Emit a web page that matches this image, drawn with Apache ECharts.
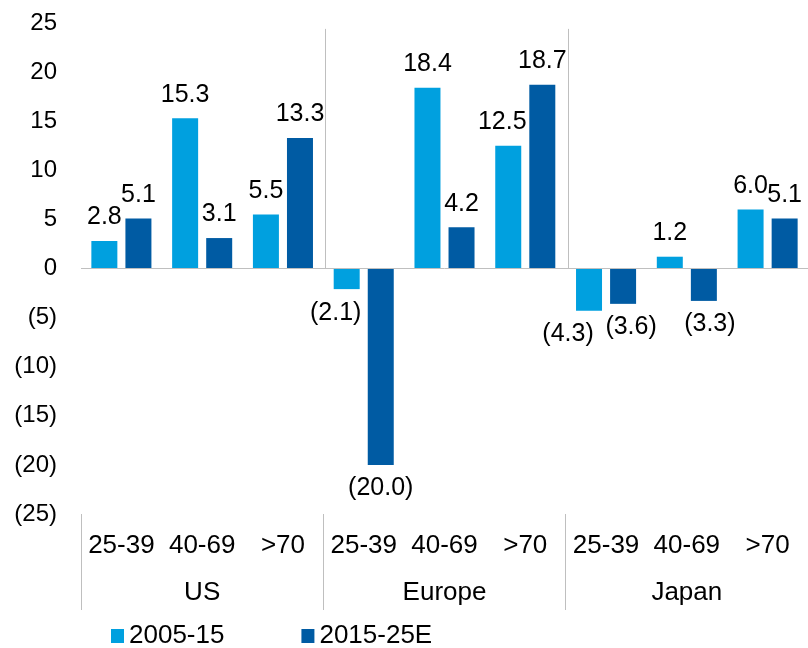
<!DOCTYPE html>
<html>
<head>
<meta charset="utf-8">
<script src="https://cdn.jsdelivr.net/npm/echarts@6/dist/echarts.min.js"></script>
<style>
  html, body { margin: 0; padding: 0; background: #fff; }
  #chart { width: 808px; height: 648px; }
</style>
</head>
<body>
<div id="chart"></div>
<script>
// Age bands within each region, and the regions they belong to
const ageGroups = ['25-39', '40-69', '>70', '25-39', '40-69', '>70', '25-39', '40-69', '>70'];
const regions = ['US', 'Europe', 'Japan'];

// Growth by age band, per period
const series2005to15 = [2.8, 15.3, 5.5, -2.1, 18.4, 12.5, -4.3, 1.2, 6.0];
const series2015to25E = [5.1, 3.1, 13.3, -20.0, 4.2, 18.7, -3.6, -3.3, 5.1];

// Category index at which each new region begins (region dividers)
const regionStarts = [3, 6];

const FONT = "'Liberation Sans', Arial, sans-serif";
const LIGHT = '#00A0DF';
const DARK = '#005BA3';
const RULE = '#BFBFBF';

function fmt(v) {
  return v < 0 ? '(' + (-v).toFixed(1) + ')' : v.toFixed(1);
}

// Small sideways nudges so neighbouring negative labels don't collide
const labelNudge = {
  light: { 3: -11, 5: -6, 6: -21 },
  dark: { 6: 8, 7: 6 }
};

function buildBarData(values, nudge) {
  return values.map((v, i) => ({
    value: v,
    label: {
      position: v < 0 ? 'bottom' : 'top',
      offset: [nudge[i] || 0, 0]
    }
  }));
}

const chart = echarts.init(document.getElementById('chart'), null, { renderer: 'canvas' });

const barLabel = {
  show: true,
  distance: 11,
  fontSize: 25,
  fontFamily: FONT,
  color: '#000',
  formatter: p => fmt(p.value)
};

chart.setOption({
  animation: false,
  textStyle: { fontFamily: FONT },
  grid: { left: 81, right: -2, top: 23, bottom: 134, containLabel: false },
  legend: {
    left: 111,
    top: 623,
    padding: 0,
    icon: 'rect',
    itemWidth: 13,
    itemHeight: 14,
    itemGap: 77,
    textStyle: { fontSize: 26, fontFamily: FONT, color: '#000' },
    data: ['2005-15', '2015-25E']
  },
  xAxis: [
    {
      type: 'category',
      data: ageGroups,
      position: 'bottom',
      axisLine: { show: false },
      axisTick: { show: false },
      axisLabel: { margin: 19, fontSize: 26, fontFamily: FONT, color: '#000', interval: 0 },
      splitLine: { show: false }
    },
    {
      type: 'category',
      data: regions,
      position: 'bottom',
      axisLine: { show: false },
      axisTick: { show: true, interval: 0, length: 96, lineStyle: { color: RULE, width: 1 } },
      axisLabel: { margin: 66, fontSize: 26, fontFamily: FONT, color: '#000', interval: 0 },
      splitLine: { show: false }
    }
  ],
  yAxis: {
    type: 'value',
    min: -25,
    max: 25,
    interval: 5,
    axisLine: { show: false },
    axisTick: { show: false },
    splitLine: { show: false },
    axisLabel: {
      margin: 24,
      fontSize: 24,
      fontFamily: FONT,
      color: '#000',
      formatter: v => (v < 0 ? '(' + (-v) + ')' : String(v))
    }
  },
  series: [
    {
      name: '2005-15',
      type: 'bar',
      xAxisIndex: 0,
      barWidth: 26,
      barGap: '31%',
      itemStyle: { color: LIGHT },
      label: barLabel,
      data: buildBarData(series2005to15, labelNudge.light),
      markLine: {
        silent: true,
        symbol: ['none', 'none'],
        label: { show: false },
        lineStyle: { color: RULE, width: 1, type: 'solid' },
        data: [{ yAxis: 0 }]
      }
    },
    {
      name: '2015-25E',
      type: 'bar',
      xAxisIndex: 0,
      barWidth: 26,
      barGap: '31%',
      itemStyle: { color: DARK },
      label: barLabel,
      data: buildBarData(series2015to25E, labelNudge.dark)
    },
    {
      // Vertical dividers between regions, from near the top down to the zero line
      type: 'custom',
      xAxisIndex: 0,
      silent: true,
      z: 1,
      encode: { x: 0, y: [1, 2] },
      data: regionStarts.map(i => [i, 24.4, 0]),
      renderItem: (params, api) => {
        const half = api.size([1, 0])[0] / 2;
        const top = api.coord([api.value(0), api.value(1)]);
        const bottom = api.coord([api.value(0), api.value(2)]);
        const x = Math.round(top[0] - half) + 2.5;
        return {
          type: 'line',
          shape: { x1: x, y1: top[1], x2: x, y2: bottom[1] },
          style: { stroke: RULE, lineWidth: 1 }
        };
      }
    }
  ]
});
</script>
</body>
</html>
